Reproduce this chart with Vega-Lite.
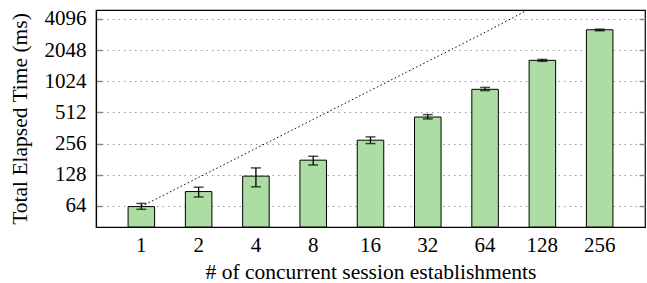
{
  "$schema": "https://vega.github.io/schema/vega-lite/v6.json",
  "width": 549,
  "height": 217,
  "autosize": {"type": "none"},
  "padding": {"left": 96, "top": 10, "right": 2, "bottom": 56},
  "config": {
    "view": {"stroke": "black", "strokeWidth": 1.2},
    "font": "Liberation Serif",
    "style": {
      "guide-label": {"font": "Liberation Serif", "fontSize": 21, "fill": "black"},
      "guide-title": {"font": "Liberation Serif", "fontSize": 21.5, "fill": "black", "fontWeight": "normal"}
    },
    "axis": {
      "labelFont": "Liberation Serif",
      "titleFont": "Liberation Serif",
      "labelColor": "black",
      "titleColor": "black",
      "labelFontSize": 21,
      "titleFontSize": 21.5,
      "titleFontWeight": "normal",
      "domainColor": "black",
      "domainWidth": 1.2
    }
  },
  "datasets": {
    "bars": [
      {"n": 1, "t": 63, "lo": 59.3, "hi": 67.6},
      {"n": 2, "t": 88, "lo": 78, "hi": 97},
      {"n": 4, "t": 124, "lo": 98, "hi": 149},
      {"n": 8, "t": 177, "lo": 159, "hi": 193},
      {"n": 16, "t": 276, "lo": 256, "hi": 297},
      {"n": 32, "t": 462, "lo": 443, "hi": 488},
      {"n": 64, "t": 856, "lo": 832, "hi": 893},
      {"n": 128, "t": 1630, "lo": 1595, "hi": 1667},
      {"n": 256, "t": 3220, "lo": 3150, "hi": 3265}
    ],
    "line": [
      {"n": 1, "v": 63.2},
      {"n": 2, "v": 120.5},
      {"n": 4, "v": 230},
      {"n": 8, "v": 438},
      {"n": 16, "v": 836},
      {"n": 32, "v": 1594},
      {"n": 64, "v": 3042},
      {"n": 128, "v": 5950}
    ]
  },
  "layer": [
    {
      "layer": [
        {
          "data": {"name": "bars"},
          "mark": {"type": "bar", "fill": "#acdea3", "stroke": "black", "strokeWidth": 1},
          "encoding": {
            "x": {
              "field": "n", "type": "ordinal",
              "scale": {"paddingInner": 0.537, "paddingOuter": 0.56},
              "axis": {"title": "# of concurrent session establishments", "labelAngle": 0, "ticks": false, "labelPadding": 7, "titlePadding": 6, "labelFont": "Liberation Serif", "titleFont": "Liberation Serif"}
            },
            "y": {
              "field": "t", "type": "quantitative",
              "scale": {"type": "log", "base": 2, "domain": [40, 5000]},
              "axis": {
                "title": "Total Elapsed Time (ms)",
                "labelFont": "Liberation Serif",
                "titleFont": "Liberation Serif",
                "values": [64, 128, 256, 512, 1024, 2048, 4096],
                "format": "d",
                "grid": true,
                "gridColor": "#999999",
                "gridDash": [1.5, 4],
                "gridWidth": 1,
                "tickSize": -6,
                "tickColor": "#888888",
                "tickWidth": 1.5,
                "labelPadding": 16,
                "titlePadding": 13
              }
            },
            "y2": {"datum": 40}
          }
        },
        {
          "data": {"name": "line"},
          "mark": {"type": "line", "color": "black", "strokeWidth": 1, "strokeDash": [1.5, 2.5], "clip": true},
          "encoding": {
            "x": {"field": "n", "type": "ordinal"},
            "y": {"field": "v", "type": "quantitative", "scale": {"type": "log", "base": 2, "domain": [40, 5000]}}
          }
        },
        {
          "data": {"name": "bars"},
          "mark": {"type": "rule", "color": "black", "strokeWidth": 1.3},
          "encoding": {
            "x": {"field": "n", "type": "ordinal"},
            "y": {"field": "lo", "type": "quantitative", "scale": {"type": "log", "base": 2, "domain": [40, 5000]}},
            "y2": {"field": "hi"}
          }
        },
        {
          "data": {"name": "bars"},
          "mark": {"type": "tick", "orient": "horizontal", "color": "black", "size": 10, "thickness": 1.5},
          "encoding": {
            "x": {"field": "n", "type": "ordinal"},
            "y": {"field": "lo", "type": "quantitative", "scale": {"type": "log", "base": 2, "domain": [40, 5000]}}
          }
        },
        {
          "data": {"name": "bars"},
          "mark": {"type": "tick", "orient": "horizontal", "color": "black", "size": 10, "thickness": 1.5},
          "encoding": {
            "x": {"field": "n", "type": "ordinal"},
            "y": {"field": "hi", "type": "quantitative", "scale": {"type": "log", "base": 2, "domain": [40, 5000]}}
          }
        }
      ]
    },
    {
      "data": {"name": "bars"},
      "mark": {"type": "point", "opacity": 0},
      "encoding": {
        "y": {
          "field": "t", "type": "quantitative",
          "scale": {"type": "log", "base": 2, "domain": [40, 5000]},
          "axis": {
            "orient": "right",
            "title": null,
            "labels": false,
            "values": [64, 128, 256, 512, 1024, 2048, 4096],
            "grid": false,
            "tickSize": -6,
            "tickColor": "#888888",
            "tickWidth": 1.5,
            "domain": false
          }
        }
      }
    }
  ],
  "resolve": {"axis": {"y": "independent"}}
}
